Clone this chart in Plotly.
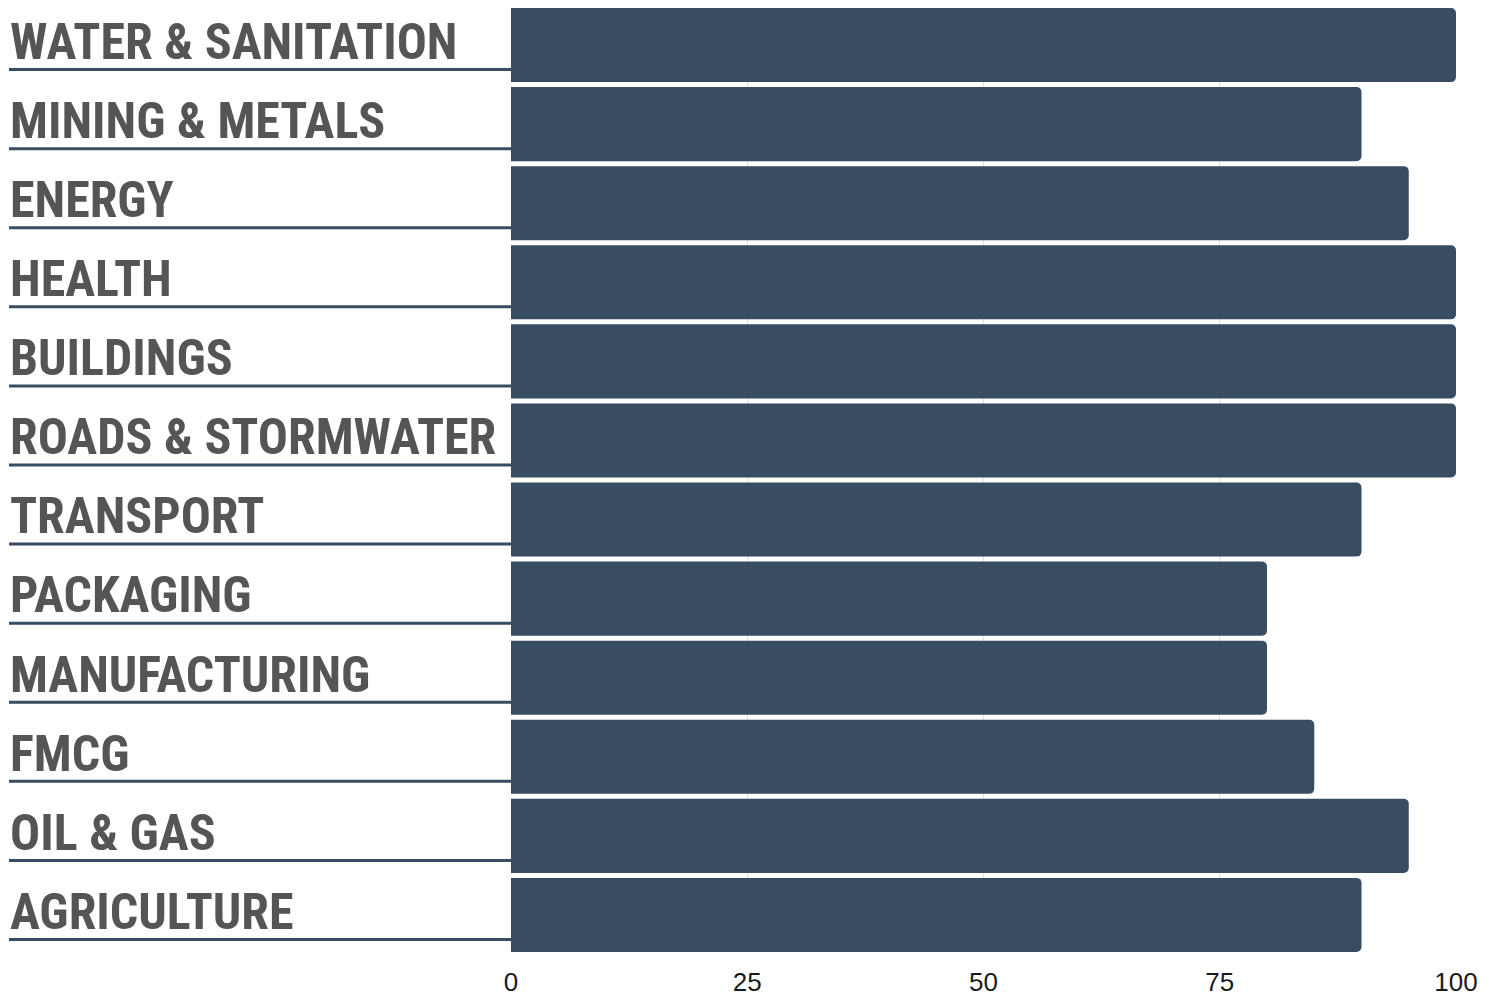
import plotly.graph_objects as go

categories = ["WATER & SANITATION", "MINING & METALS", "ENERGY", "HEALTH", "BUILDINGS",
              "ROADS & STORMWATER", "TRANSPORT", "PACKAGING", "MANUFACTURING", "FMCG",
              "OIL & GAS", "AGRICULTURE"]
values = [100, 90, 95, 100, 100, 100, 90, 80, 80, 85, 95, 90]
tick_vals = [0, 25, 50, 75, 100]
tick_text = ["0", "25", "50", "75", "100"]

W, H = 1493, 996
PLOT_L, PLOT_R, PLOT_T, PLOT_B = 511, 1456, 8, 952
BAR = "#384d62"
LABEL_FONT = "Roboto Condensed, Liberation Sans Narrow, Arial Narrow, sans-serif"
BARGAP = 0.063
n = len(categories)
half_gap = BARGAP / 2

fig = go.Figure(go.Bar(
    x=values, y=categories, orientation="h",
    marker=dict(color=BAR, cornerradius=5, line=dict(width=0)),
    hoverinfo="x+y",
))

pw = PLOT_R - PLOT_L
annotations = []
shapes = []
for i, c in enumerate(categories):
    annotations.append(dict(
        text="<b>" + c.replace("&", "&amp;") + "</b>", xref="paper", yref="y",
        x=(8 - PLOT_L) / pw, y=i - 0.04, xanchor="left", yanchor="middle",
        showarrow=False, font=dict(family=LABEL_FONT, size=50, color="#555555"),
    ))
    shapes.append(dict(
        type="line", xref="paper", yref="y",
        x0=(9 - PLOT_L) / pw, x1=0, y0=i + 0.31, y1=i + 0.31,
        line=dict(color=BAR, width=3), layer="above",
    ))

fig.update_layout(
    width=W, height=H,
    margin=dict(l=PLOT_L, r=W - PLOT_R, t=PLOT_T, b=H - PLOT_B),
    plot_bgcolor="white", paper_bgcolor="white",
    bargap=BARGAP,
    showlegend=False,
    annotations=annotations, shapes=shapes,
    xaxis=dict(range=[0, 100], tickvals=tick_vals, ticktext=tick_text, automargin=False,
               showgrid=True, gridcolor="#e0e0e0", gridwidth=1, zeroline=False,
               showline=False, ticks="", ticklabelstandoff=12,
               tickfont=dict(family="Liberation Sans, Arial, sans-serif", size=26, color="#1a1a1a")),
    yaxis=dict(range=[n - 0.5 - half_gap, -0.5 + half_gap], showticklabels=False, showgrid=False,
               automargin=False, zeroline=False, showline=False, ticks=""),
)

fig.write_html("out.html", config={"displayModeBar": False},
               post_script="document.body.style.margin='0px';")
